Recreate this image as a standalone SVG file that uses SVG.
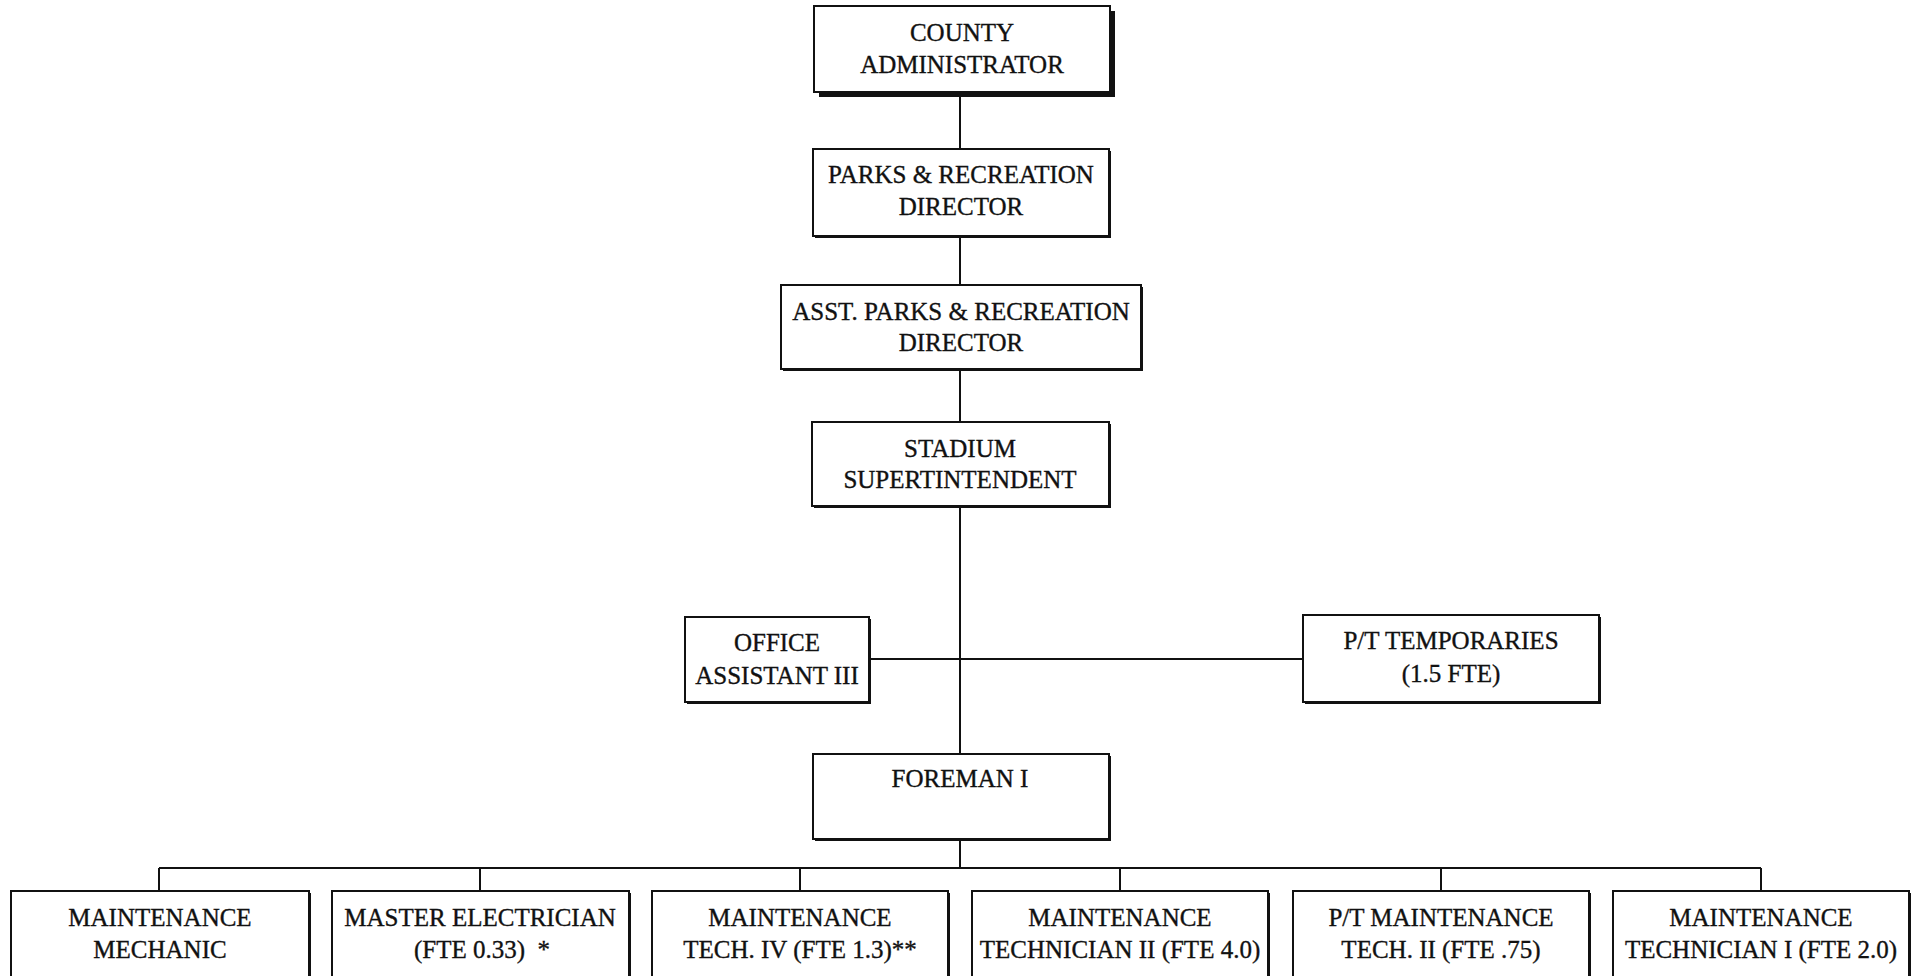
<svg xmlns="http://www.w3.org/2000/svg" width="1917" height="976" viewBox="0 0 1917 976">
  <style>
    .box { fill: #ffffff; stroke: #111111; stroke-width: 2; }
    .shadow { fill: #111111; }
    .lbl { font-family: "Liberation Serif", "Times New Roman", serif; font-size: 25px; fill: #111111; stroke: #111111; stroke-width: 0.35; text-anchor: middle; white-space: pre; }
    .wire { stroke: #111111; stroke-width: 2; fill: none; }
  </style>
  <rect width="1917" height="976" fill="#ffffff"/>

  <!-- reporting lines -->
  <g id="connectors">
    <line class="wire" x1="960" y1="92" x2="960" y2="149"/>
    <line class="wire" x1="960" y1="236" x2="960" y2="285"/>
    <line class="wire" x1="960" y1="369" x2="960" y2="422"/>
    <line class="wire" x1="960" y1="506" x2="960" y2="754"/>
    <line class="wire" x1="869" y1="659" x2="1303" y2="659"/>
    <line class="wire" x1="960" y1="839" x2="960" y2="868"/>
    <line class="wire" x1="159" y1="868" x2="1761" y2="868"/>
    <line class="wire" x1="159" y1="868" x2="159" y2="891"/>
    <line class="wire" x1="480" y1="868" x2="480" y2="891"/>
    <line class="wire" x1="800" y1="868" x2="800" y2="891"/>
    <line class="wire" x1="1120" y1="868" x2="1120" y2="891"/>
    <line class="wire" x1="1441" y1="868" x2="1441" y2="891"/>
    <line class="wire" x1="1761" y1="868" x2="1761" y2="891"/>
  </g>

  <g id="county-administrator">
    <rect class="shadow" x="819" y="11" width="296" height="86"/>
    <rect class="box" x="814" y="6" width="296" height="86" stroke-width="2.5"/>
    <text class="lbl" x="962" y="41">COUNTY</text>
    <text class="lbl" x="962" y="73">ADMINISTRATOR</text>
  </g>

  <g id="parks-director">
    <rect class="shadow" x="815" y="151" width="296" height="87"/>
    <rect class="box" x="813" y="149" width="296" height="87"/>
    <text class="lbl" x="961" y="183">PARKS &amp; RECREATION</text>
    <text class="lbl" x="961" y="215">DIRECTOR</text>
  </g>

  <g id="asst-parks-director">
    <rect class="shadow" x="783" y="287" width="360" height="84"/>
    <rect class="box" x="781" y="285" width="360" height="84"/>
    <text class="lbl" x="961" y="320">ASST. PARKS &amp; RECREATION</text>
    <text class="lbl" x="961" y="351">DIRECTOR</text>
  </g>

  <g id="stadium-superintendent">
    <rect class="shadow" x="814" y="424" width="297" height="84"/>
    <rect class="box" x="812" y="422" width="297" height="84"/>
    <text class="lbl" x="960" y="457">STADIUM</text>
    <text class="lbl" x="960" y="488">SUPERTINTENDENT</text>
  </g>

  <g id="office-assistant">
    <rect class="shadow" x="687" y="619" width="184" height="85"/>
    <rect class="box" x="685" y="617" width="184" height="85"/>
    <text class="lbl" x="777" y="651">OFFICE</text>
    <text class="lbl" x="777" y="684">ASSISTANT III</text>
  </g>

  <g id="pt-temporaries">
    <rect class="shadow" x="1305" y="617" width="296" height="87"/>
    <rect class="box" x="1303" y="615" width="296" height="87"/>
    <text class="lbl" x="1451" y="649">P/T TEMPORARIES</text>
    <text class="lbl" x="1451" y="682">(1.5 FTE)</text>
  </g>

  <g id="foreman">
    <rect class="shadow" x="815" y="756" width="296" height="85"/>
    <rect class="box" x="813" y="754" width="296" height="85"/>
    <text class="lbl" x="960" y="787">FOREMAN I</text>
  </g>

  <g id="maintenance-mechanic">
    <rect class="shadow" x="13" y="893" width="298" height="100"/>
    <rect class="box" x="11" y="891" width="298" height="100"/>
    <text class="lbl" x="160" y="926">MAINTENANCE</text>
    <text class="lbl" x="160" y="958">MECHANIC</text>
  </g>

  <g id="master-electrician">
    <rect class="shadow" x="334" y="893" width="297" height="100"/>
    <rect class="box" x="332" y="891" width="297" height="100"/>
    <text class="lbl" x="480" y="926">MASTER ELECTRICIAN</text>
    <text class="lbl" x="482" y="958">(FTE 0.33)  *</text>
  </g>

  <g id="maintenance-tech-iv">
    <rect class="shadow" x="654" y="893" width="296" height="100"/>
    <rect class="box" x="652" y="891" width="296" height="100"/>
    <text class="lbl" x="800" y="926">MAINTENANCE</text>
    <text class="lbl" x="800" y="958">TECH. IV (FTE 1.3)**</text>
  </g>

  <g id="maintenance-technician-ii">
    <rect class="shadow" x="974" y="893" width="296" height="100"/>
    <rect class="box" x="972" y="891" width="296" height="100"/>
    <text class="lbl" x="1120" y="926">MAINTENANCE</text>
    <text class="lbl" x="1120" y="958">TECHNICIAN II (FTE 4.0)</text>
  </g>

  <g id="pt-maintenance-tech-ii">
    <rect class="shadow" x="1295" y="893" width="296" height="100"/>
    <rect class="box" x="1293" y="891" width="296" height="100"/>
    <text class="lbl" x="1441" y="926">P/T MAINTENANCE</text>
    <text class="lbl" x="1441" y="958">TECH. II (FTE .75)</text>
  </g>

  <g id="maintenance-technician-i">
    <rect class="shadow" x="1615" y="893" width="296" height="100"/>
    <rect class="box" x="1613" y="891" width="296" height="100"/>
    <text class="lbl" x="1761" y="926">MAINTENANCE</text>
    <text class="lbl" x="1761" y="958">TECHNICIAN I (FTE 2.0)</text>
  </g>
</svg>
